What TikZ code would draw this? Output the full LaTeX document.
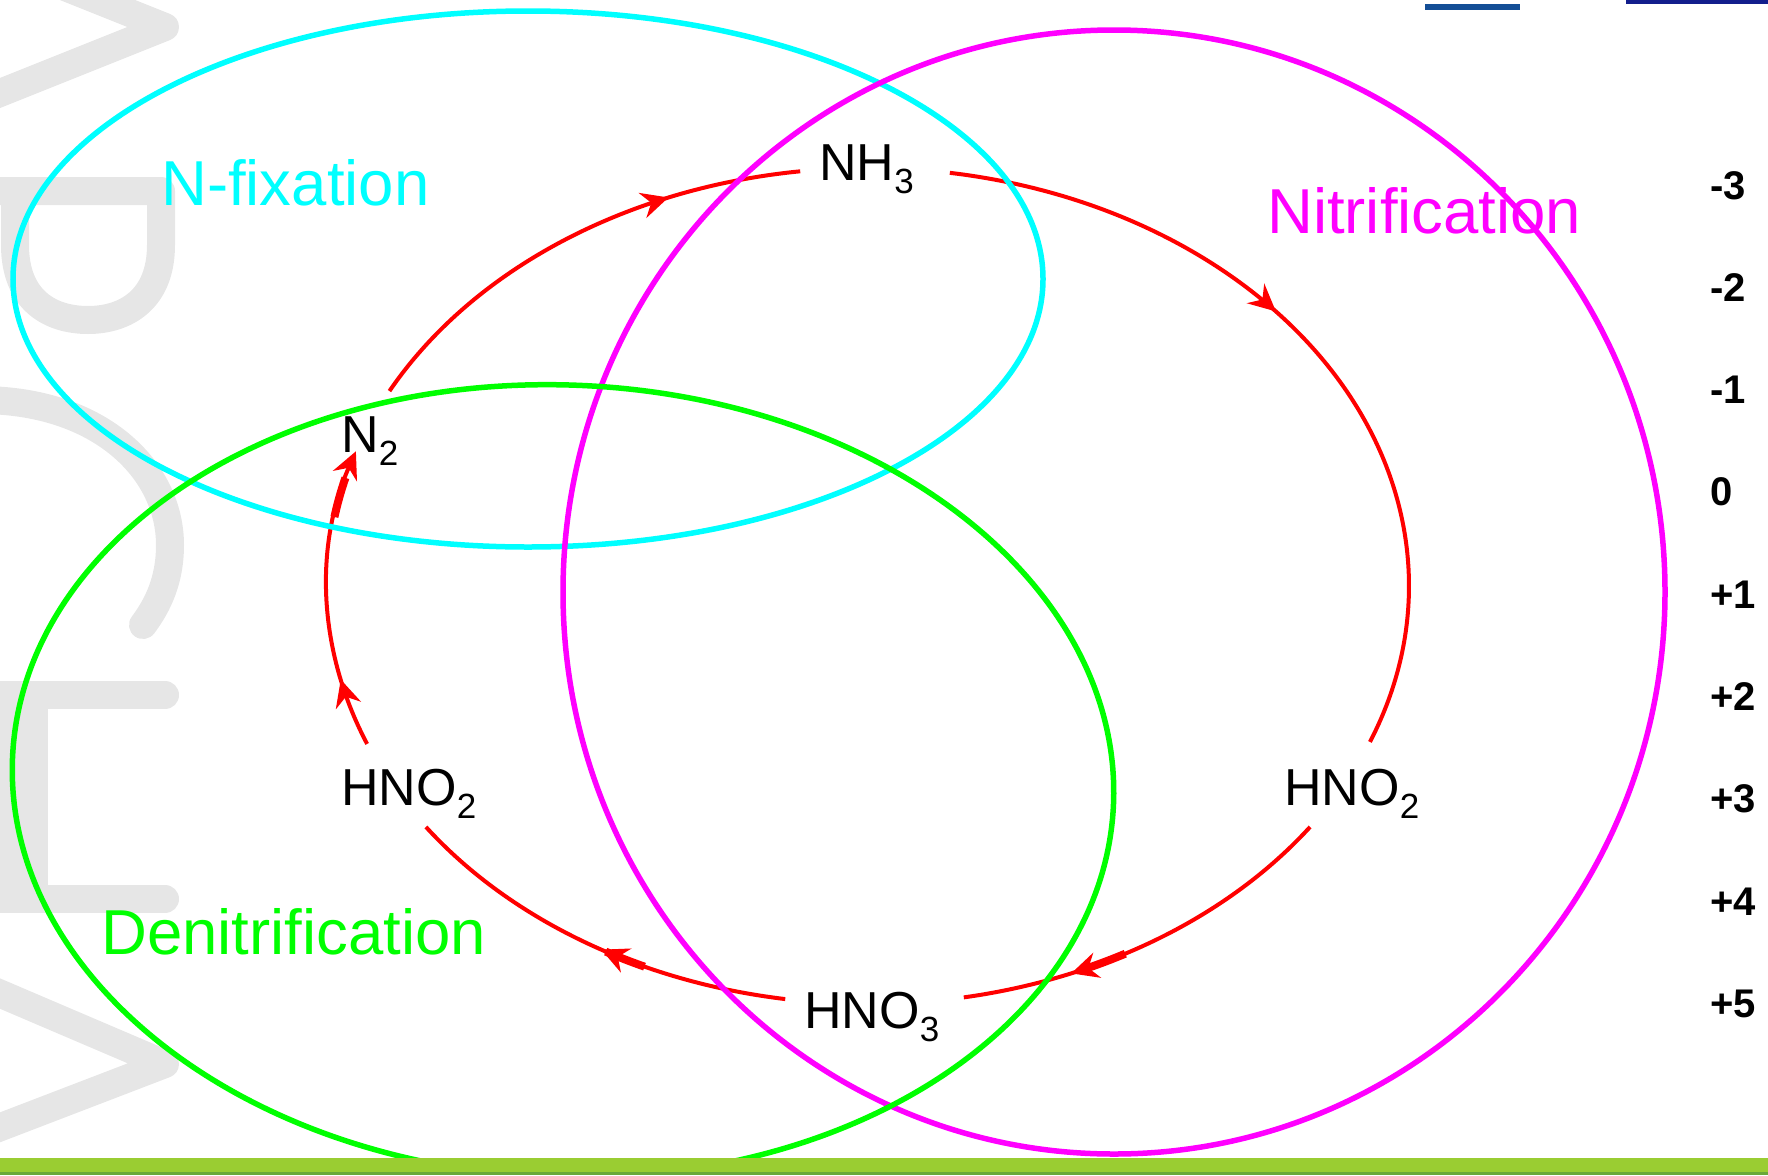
\documentclass[tikz,border=0pt]{standalone}
\usepackage{fontspec}
\setmainfont{Liberation Sans}
\usetikzlibrary{arrows.meta,decorations.markings,calc}
\definecolor{wm}{RGB}{230,230,230}
\definecolor{barg}{RGB}{154,205,50}
\definecolor{bard}{RGB}{106,168,58}
\definecolor{blueA}{RGB}{20,78,150}
\definecolor{blueB}{RGB}{18,30,140}
\definecolor{cyn}{RGB}{0,255,255}
\definecolor{mgt}{RGB}{255,0,255}
\definecolor{grn}{RGB}{0,255,0}
\definecolor{rd}{RGB}{255,0,0}
\newcommand{\mysub}[1]{\raisebox{-13pt}{\fontsize{35}{35}\selectfont #1}}
\tikzset{rh/.tip={Stealth[length=27pt,width=26pt,inset=9pt]}}
\begin{document}
\begin{tikzpicture}[x=1pt,y=-1pt,
  lbl/.style={inner sep=0pt, anchor=base west, font=\fontsize{52}{60}\selectfont},
  big/.style={inner sep=0pt, anchor=base west, font=\fontsize{63.5}{75}\selectfont},
  ox/.style={inner sep=0pt, anchor=base west, font=\fontsize{40}{48}\selectfont\bfseries},
  ring/.style={line width=5.5pt},
  rarc/.style={draw=rd, line width=4pt},
  thk/.style={draw=rd, line width=8pt},
  wmk/.style={draw=wm, line width=28pt, line cap=round, line join=round},
  amark/.style={postaction={decorate,decoration={markings,mark=at position #1 with {\arrow[rd]{rh}}}}}
]
\useasboundingbox (0,0) rectangle (1768,1175);
% watermark
\draw[wmk] (-20,-47) -- (165,27) -- (-20,101);
\draw[wmk] (-20,191) -- (161,191) -- (161,245) .. controls (161,300) and (125,320) .. (88,320) .. controls (50,320) and (15,300) .. (15,245) -- (15,191);
\draw[wmk] (-20,400) .. controls (100,400) and (170,470) .. (170,545) .. controls (170,580) and (158,605) .. (143,625);
\draw[wmk] (165,695) -- (24,695) -- (24,899) -- (165,899);
\fill[wm] (0,681) rectangle (48,913);
\draw[wmk] (-20,985) -- (165,1064) -- (-20,1135);

% cycle centre
\coordinate (c) at (868,586);
% red arcs
\draw[rarc, amark=0.72] ($(c)+(-152.2:541 and 418)$) arc[start angle=-152.2,end angle=-97.2,x radius=541,y radius=418];
\draw[rarc, amark=0.43] ($(c)+(-81.3:541 and 418)$) arc[start angle=-81.3,end angle=21.9,x radius=541,y radius=418];
\draw[rarc, amark=0.72] ($(c)+(35.2:541 and 418)$) arc[start angle=35.2,end angle=79.8,x radius=541,y radius=418];
\draw[thk] ($(c)+(61.6:541 and 418)$) arc[start angle=61.6,end angle=66,x radius=541,y radius=418];
\draw[rarc, amark=0.47] ($(c)+(98.8:541 and 418)$) arc[start angle=98.8,end angle=144.8,x radius=541,y radius=418];
\draw[thk] ($(c)+(114.4:541 and 418)$) arc[start angle=114.4,end angle=119,x radius=541,y radius=418];
\draw[rarc, amark=0.23, -{rh}] ($(c)+(157.8:541 and 418)$) arc[start angle=157.8,end angle=198.8,x radius=541,y radius=418];
\draw[thk] ($(c)+(189.5:541 and 418)$) arc[start angle=189.5,end angle=195,x radius=541,y radius=418];

% group labels
\node[big, text=cyn] (nfix) at (161,205) {N-fixation};
\node[big, text=mgt] (nitr) at (1267,233) {Nitrification};
\node[big, text=grn] (denit) at (101,954) {Denitrification};

% ellipses
\draw[ring, cyn] (528,279) ellipse [x radius=515, y radius=268];
\draw[ring, mgt] (1114,592) ellipse [x radius=551, y radius=562];
\begin{scope}
\clip (-10,-10) rectangle (1778,1158);
\draw[ring, grn, rotate around={-2.4:(563,781)}] (563,781) ellipse [x radius=551, y radius=396];
\end{scope}

% compounds
\node[lbl] (nh3) at (819,180) {NH\mysub{3}};
\node[lbl] (n2) at (341,452) {N\mysub{2}};
\node[lbl] (hno2l) at (341,805) {HNO\mysub{2}};
\node[lbl] (hno2r) at (1284,805) {HNO\mysub{2}};
\node[lbl] (hno3) at (804,1028) {HNO\mysub{3}};

% oxidation states
\foreach \v [count=\i from 0] in {-3,-2,-1,0,+1,+2,+3,+4,+5}
  \node[ox] (ox\i) at (1710,{199+102.3*\i}) {\v};

% bottom bar and top lines
\fill[barg] (0,1158) rectangle (1768,1172);
\fill[bard] (0,1172) rectangle (1768,1175);
\fill[blueA] (1425,4) rectangle (1520,10);
\fill[blueB] (1626,0) rectangle (1768,4);
\end{tikzpicture}
\end{document}
